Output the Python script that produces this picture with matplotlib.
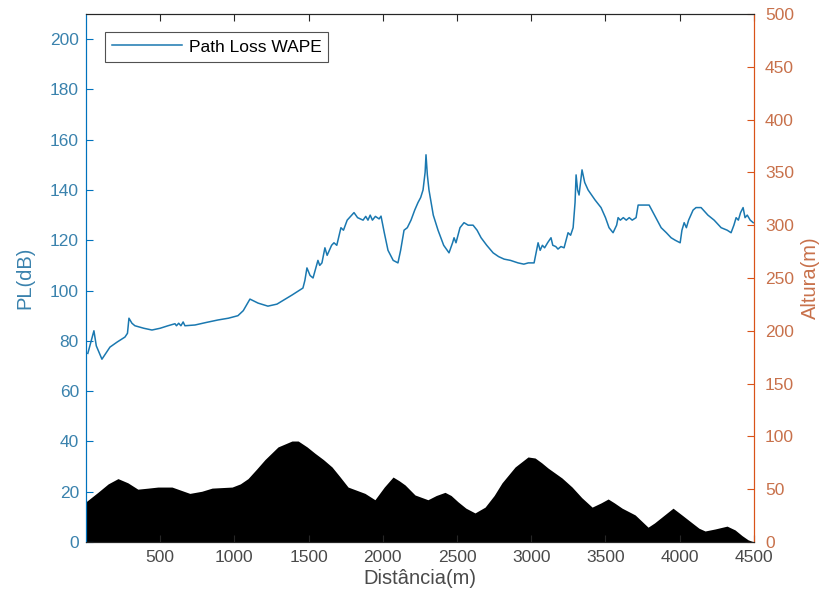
import matplotlib
matplotlib.use("Agg")
import matplotlib.pyplot as plt

plt.rcParams['font.family'] = ['Liberation Sans', 'DejaVu Sans']

# Path loss (left axis)
pl_dist = [13, 54, 70, 108, 162, 210, 263, 280, 290, 310, 330, 390, 445, 500, 553, 600, 610, 625, 640, 655, 667,
           735, 810, 890, 960, 1024, 1060, 1105, 1160, 1226, 1287, 1340, 1388, 1462, 1475, 1489, 1510, 1530, 1563,
           1575, 1590, 1610, 1625, 1640, 1655, 1671, 1690, 1718, 1735, 1760, 1806, 1830, 1867, 1885, 1900, 1915,
           1930, 1950, 1975, 1988, 2010, 2035, 2070, 2102, 2120, 2143, 2165, 2190, 2215, 2237, 2255, 2271, 2285,
           2291, 2300, 2311, 2340, 2372, 2410, 2446, 2470, 2480, 2493, 2520, 2547, 2575, 2608, 2635, 2662, 2700,
           2743, 2780, 2817, 2860, 2911, 2950, 2980, 3019, 3046, 3060, 3075, 3090, 3110, 3133, 3145, 3165, 3180,
           3200, 3221, 3248, 3265, 3282, 3295, 3302, 3312, 3322, 3342, 3360, 3383, 3430, 3470, 3500, 3524, 3551,
           3575, 3585, 3600, 3620, 3640, 3660, 3680, 3706, 3720, 3760, 3794, 3830, 3875, 3910, 3942, 3970, 4003,
           4015, 4030, 4045, 4060, 4090, 4110, 4144, 4190, 4232, 4279, 4320, 4346, 4365, 4380, 4395, 4410, 4427,
           4440, 4455, 4475, 4495]
pl_db = [75, 84, 78, 72.7, 77.5, 79.5, 81.5, 83, 89, 87, 86, 85, 84.3, 85, 86, 86.8, 86, 87, 86, 87.5, 86,
         86.3, 87.3, 88.3, 89, 90, 92, 96.6, 95, 93.8, 94.6, 96.5, 98.2, 101, 104, 109, 106, 105, 112,
         110, 111, 117, 114, 116, 118, 119, 118, 125, 124, 128, 131, 129, 128, 129.5, 128, 130,
         128, 129.5, 128.5, 129.6, 123, 116, 112, 111, 116, 124, 125, 128, 132, 135, 137, 140, 147,
         154, 146, 140, 130, 124, 118, 115, 119, 121, 119, 125, 127, 126, 126, 124, 121, 118,
         115, 113.5, 112.5, 112, 111, 110.5, 111, 111, 119, 116, 118, 117, 119, 121, 118, 117.5, 116.5,
         117.5, 117, 123, 122, 125, 135, 146, 140, 138, 148, 143, 140, 136, 133, 129, 125, 123,
         126, 129, 128, 129, 128, 129, 128, 129, 134, 134, 134, 130, 125, 123, 121, 120, 119,
         124, 127, 125, 128, 132, 133, 133, 130, 128, 125, 124, 123, 126, 129, 128, 131, 133,
         129, 130, 128, 127]

# Terrain (right axis)
ter_dist = [0, 81, 150, 216, 283, 350, 420, 485, 580, 640, 700, 780, 850, 985, 1040, 1092, 1150, 1206, 1294,
            1388, 1430, 1490, 1543, 1600, 1658, 1710, 1766, 1880, 1947, 2010, 2069, 2110, 2150, 2217, 2304,
            2360, 2419, 2460, 2507, 2560, 2621, 2689, 2750, 2803, 2891, 2978, 3026, 3070, 3113, 3207, 3275,
            3340, 3410, 3470, 3518, 3560, 3612, 3700, 3787, 3830, 3881, 3955, 4020, 4084, 4130, 4171, 4238,
            4319, 4373, 4420, 4461, 4500]
ter_h = [38, 47, 55, 60, 56, 50, 51, 52, 52, 49, 46, 48, 51, 52, 55, 60, 69, 78, 90,
         95.6, 95.6, 90, 84, 78, 71, 62, 52, 46, 40, 52, 61.5, 58, 54, 44.5, 40,
         44, 47, 44, 38, 32, 27.5, 33, 44, 56, 71, 80.5, 79.5, 75, 70, 60.6, 52,
         42, 33, 37, 40.7, 37, 32, 25.6, 14, 18, 23.7, 32, 25, 18, 13, 10.4, 12.3,
         15, 11.4, 6, 2, 0]

left_ticks = [0, 20, 40, 60, 80, 100, 120, 140, 160, 180, 200]
right_ticks = [0, 50, 100, 150, 200, 250, 300, 350, 400, 450, 500]
x_ticks = [500, 1000, 1500, 2000, 2500, 3000, 3500, 4000, 4500]

blue = '#0072BD'
orange = '#D95319'
dark = '#262626'
blue_txt = '#3a82ad'
orange_txt = '#c8714b'
gray_txt = '#4a4a4a'

fig = plt.figure(figsize=(8.34, 6.08), dpi=100)
ax = fig.add_axes([0.103, 0.1086, 0.801, 0.8684])
ax2 = ax.twinx()

ax2.fill_between(ter_dist, 0, ter_h, color='black', linewidth=0)
ax.plot(pl_dist, pl_db, color='#1a78b0', lw=1.1, label='Path Loss WAPE')

ax.set_xlim(0, 4500)
ax.set_ylim(0, 210)
ax2.set_ylim(0, 500)
ax.set_xticks(x_ticks)
ax.set_yticks(left_ticks)
ax2.set_yticks(right_ticks)

ax.tick_params(axis='x', direction='in', colors=dark, labelcolor=gray_txt, labelsize=12.5, length=5,
               top=True, pad=6)
ax.tick_params(axis='y', direction='in', colors=blue, labelcolor=blue_txt, labelsize=12.5, length=5, pad=5)
ax2.tick_params(axis='y', direction='in', colors=orange, labelcolor=orange_txt, labelsize=12.5, length=5, pad=8)

for a in (ax, ax2):
    a.spines['top'].set_color(dark)
    a.spines['bottom'].set_color(dark)
    a.spines['left'].set_color(blue)
    a.spines['right'].set_color(orange)
    for s in a.spines.values():
        s.set_linewidth(0.8)

ax.set_xlabel('Distância(m)', fontsize=14.5, color=gray_txt, labelpad=3)
ax.set_ylabel('PL(dB)', fontsize=14.5, color=blue_txt, labelpad=11)
ax2.set_ylabel('Altura(m)', fontsize=14.5, color=orange_txt, labelpad=5)

leg = ax.legend(loc='upper left', bbox_to_anchor=(0.029, 0.965), fontsize=12.5, frameon=True,
                fancybox=False, handlelength=4.0, borderpad=0.4, handletextpad=0.4, borderaxespad=0)
leg.get_frame().set_edgecolor(dark)
leg.get_frame().set_linewidth(0.8)
ax.set_zorder(ax2.get_zorder() + 1)
ax.patch.set_visible(False)

fig.savefig('out.png', dpi=100)
